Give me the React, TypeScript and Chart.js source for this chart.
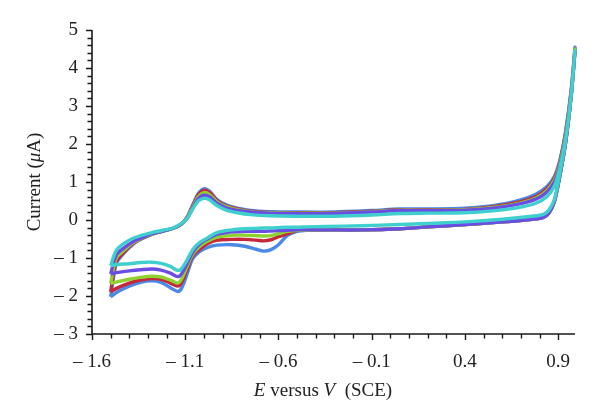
import { useEffect, useRef } from "react";
import { Chart, registerables } from "chart.js";

Chart.register(...registerables);

// Potential (V vs SCE) along the cyclic sweep
const forwardPotential = [-1.5, -1.47, -1.43, -1.38, -1.33, -1.28, -1.22, -1.16, -1.12, -1.09, -1.06, -1.03, -1.0, -0.97, -0.93, -0.88, -0.82, -0.75, -0.65, -0.5, -0.3, -0.1, 0.05, 0.2, 0.4, 0.55, 0.68, 0.78, 0.84, 0.88, 0.91, 0.94, 0.97, 0.99];
const reversePotential = [0.97, 0.94, 0.91, 0.88, 0.85, 0.82, 0.76, 0.6, 0.4, 0.2, 0.05, -0.15, -0.35, -0.45, -0.5, -0.55, -0.6, -0.64, -0.68, -0.72, -0.78, -0.85, -0.93, -0.98, -1.02, -1.06, -1.09, -1.12, -1.14, -1.18, -1.23, -1.28, -1.34, -1.4, -1.46, -1.5];

// Current (µA)
const blueForward = [-2.02, -1.15, -0.88, -0.64, -0.49, -0.38, -0.29, -0.21, -0.1, 0.08, 0.4, 0.7, 0.82, 0.76, 0.54, 0.4, 0.31, 0.25, 0.22, 0.21, 0.21, 0.25, 0.29, 0.29, 0.31, 0.38, 0.5, 0.68, 0.88, 1.15, 1.6, 2.35, 3.45, 4.55];
const blueReverse = [3.3, 2.05, 1.2, 0.5, 0.18, 0.07, 0.02, -0.05, -0.12, -0.18, -0.23, -0.26, -0.26, -0.27, -0.3, -0.4, -0.65, -0.78, -0.82, -0.77, -0.69, -0.65, -0.66, -0.72, -0.82, -1.02, -1.42, -1.8, -1.88, -1.78, -1.64, -1.6, -1.64, -1.74, -1.88, -2.02];

const redForward = [-1.89, -1.1, -0.85, -0.62, -0.48, -0.37, -0.29, -0.21, -0.1, 0.06, 0.37, 0.66, 0.78, 0.72, 0.51, 0.37, 0.29, 0.23, 0.2, 0.19, 0.19, 0.23, 0.27, 0.27, 0.28, 0.35, 0.46, 0.62, 0.82, 1.1, 1.55, 2.3, 3.4, 4.5];
const redReverse = [3.3, 2.05, 1.2, 0.5, 0.18, 0.07, 0.02, -0.05, -0.12, -0.18, -0.23, -0.26, -0.26, -0.27, -0.27, -0.36, -0.44, -0.52, -0.55, -0.53, -0.51, -0.51, -0.53, -0.62, -0.76, -0.95, -1.3, -1.65, -1.74, -1.66, -1.56, -1.54, -1.58, -1.66, -1.78, -1.89];

const greenForward = [-1.67, -1.0, -0.8, -0.6, -0.47, -0.37, -0.29, -0.21, -0.1, 0.05, 0.34, 0.61, 0.72, 0.67, 0.48, 0.35, 0.27, 0.22, 0.19, 0.18, 0.18, 0.22, 0.26, 0.26, 0.27, 0.33, 0.43, 0.58, 0.78, 1.05, 1.5, 2.25, 3.35, 4.5];
const greenReverse = [3.3, 2.05, 1.2, 0.5, 0.18, 0.07, 0.02, -0.05, -0.12, -0.18, -0.23, -0.26, -0.26, -0.27, -0.27, -0.3, -0.36, -0.41, -0.42, -0.41, -0.4, -0.4, -0.45, -0.56, -0.68, -0.9, -1.22, -1.56, -1.66, -1.58, -1.5, -1.48, -1.51, -1.56, -1.62, -1.67];

const purpleForward = [-1.42, -0.92, -0.74, -0.57, -0.46, -0.36, -0.29, -0.21, -0.1, 0.04, 0.31, 0.56, 0.65, 0.61, 0.44, 0.32, 0.25, 0.21, 0.18, 0.17, 0.17, 0.21, 0.25, 0.25, 0.26, 0.31, 0.41, 0.55, 0.74, 1.0, 1.45, 2.2, 3.3, 4.45];
const purpleReverse = [3.3, 2.05, 1.2, 0.5, 0.18, 0.07, 0.02, -0.05, -0.12, -0.18, -0.23, -0.26, -0.26, -0.26, -0.26, -0.27, -0.28, -0.29, -0.3, -0.3, -0.3, -0.31, -0.38, -0.5, -0.62, -0.85, -1.15, -1.42, -1.49, -1.4, -1.32, -1.29, -1.31, -1.34, -1.38, -1.42];

const cyanForward = [-1.2, -0.8, -0.62, -0.48, -0.4, -0.33, -0.27, -0.2, -0.09, 0.04, 0.29, 0.5, 0.57, 0.53, 0.38, 0.26, 0.19, 0.14, 0.11, 0.1, 0.1, 0.13, 0.17, 0.18, 0.19, 0.24, 0.32, 0.44, 0.62, 0.9, 1.4, 2.15, 3.3, 4.5];
const cyanReverse = [3.3, 2.1, 1.25, 0.55, 0.26, 0.15, 0.1, 0.02, -0.05, -0.09, -0.12, -0.15, -0.17, -0.18, -0.19, -0.19, -0.2, -0.21, -0.21, -0.22, -0.23, -0.26, -0.33, -0.47, -0.58, -0.78, -1.05, -1.28, -1.33, -1.22, -1.14, -1.11, -1.12, -1.15, -1.17, -1.2];

const seriesNames = ["Scan 5", "Scan 4", "Scan 3", "Scan 2", "Scan 1"];
const seriesColors = ["#3fcfcf", "#6a4de2", "#8fd12e", "#c4283a", "#4a8ae6"];
const seriesForward = [cyanForward, purpleForward, greenForward, redForward, blueForward];
const seriesReverse = [cyanReverse, purpleReverse, greenReverse, redReverse, blueReverse];

const xMin = -1.6;
const xMax = 0.99;
const yMin = -3;
const yMax = 5;
const xMajorTicks = [-1.6, -1.1, -0.6, -0.1, 0.4, 0.9];
const xTickLabels = ["\u2013 1.6", "\u2013 1.1", "\u2013 0.6", "\u2013 0.1", "0.4", "0.9"];
const yMajorTicks = [-3, -2, -1, 0, 1, 2, 3, 4, 5];
const yTickLabels = ["\u2013 3", "\u2013 2", "\u2013 1", "0", "1", "2", "3", "4", "5"];
const xMinorStep = 0.1;
const yMinorStep = 0.2;

const SERIF = "'Liberation Serif', 'Times New Roman', serif";
const FONT_SIZE = 19;

const axesPlugin = {
  id: "customAxes",
  afterDraw(chart: any) {
    const { ctx } = chart;
    const x = chart.scales.x;
    const y = chart.scales.y;
    const x0 = x.getPixelForValue(xMin);
    const x1 = x.getPixelForValue(xMax);
    const yb = y.getPixelForValue(yMin);
    const yt = y.getPixelForValue(yMax);
    ctx.save();
    ctx.strokeStyle = "#1a1a1a";
    ctx.lineWidth = 1.6;
    ctx.beginPath();
    ctx.moveTo(x0, yb);
    ctx.lineTo(x1, yb);
    ctx.moveTo(x0, yb);
    ctx.lineTo(x0, yt);
    ctx.stroke();
    ctx.lineWidth = 1.4;
    ctx.beginPath();
    const nx = Math.round((0.9 - xMin) / xMinorStep);
    for (let k = 0; k <= nx; k++) {
      const v = xMin + k * xMinorStep;
      const px = Math.round(x.getPixelForValue(v)) + 0.5;
      const len = k % 5 === 0 ? 6 : 4.5;
      ctx.moveTo(px, yb);
      ctx.lineTo(px, yb + len);
    }
    const ny = Math.round((yMax - yMin) / yMinorStep);
    for (let k = 0; k <= ny; k++) {
      const v = yMin + k * yMinorStep;
      const py = Math.round(y.getPixelForValue(v)) + 0.5;
      const len = k % 5 === 0 ? 6 : 4.5;
      ctx.moveTo(x0, py);
      ctx.lineTo(x0 - len, py);
    }
    ctx.stroke();

    // axis titles
    const normal = `${FONT_SIZE}px ${SERIF}`;
    const italic = `italic ${FONT_SIZE}px ${SERIF}`;
    ctx.fillStyle = "#222";
    ctx.textBaseline = "middle";
    ctx.textAlign = "left";
    const drawRuns = (runs: [string, string][], cx: number, cy: number) => {
      let total = 0;
      for (const [t, f] of runs) {
        ctx.font = f;
        total += ctx.measureText(t).width;
      }
      let cur = cx - total / 2;
      for (const [t, f] of runs) {
        ctx.font = f;
        ctx.fillText(t, cur, cy);
        cur += ctx.measureText(t).width;
      }
    };
    drawRuns(
      [["E", italic], [" versus ", normal], ["V", italic], ["  (SCE)", normal]],
      323,
      391
    );
    ctx.save();
    ctx.translate(35, (yt + yb) / 2);
    ctx.rotate(-Math.PI / 2);
    drawRuns([["Current (", normal], ["\u03bc", italic], ["A)", normal]], 0, 0);
    ctx.restore();
    ctx.restore();
  },
};

export default function App() {
  const canvasRef = useRef<HTMLCanvasElement | null>(null);

  useEffect(() => {
    const canvas = canvasRef.current;
    if (!canvas) return;
    const datasets = seriesNames.map((name, i) => ({
      label: name,
      data: [
        ...forwardPotential.map((e, j) => ({ x: e, y: seriesForward[i][j] })),
        ...reversePotential.map((e, j) => ({ x: e, y: seriesReverse[i][j] })),
      ],
      borderColor: seriesColors[i],
      backgroundColor: seriesColors[i],
      borderWidth: 3.4,
      pointRadius: 0,
      tension: 0.3,
      fill: false,
      clip: false as any,
    }));
    const chart = new Chart(canvas, {
      type: "line",
      data: { datasets },
      options: {
        animation: false,
        responsive: false,
        maintainAspectRatio: false,
        layout: { padding: { top: 30, right: 25, left: 0, bottom: 0 } },
        plugins: {
          legend: { display: false },
          tooltip: { enabled: false },
          title: { display: false },
        },
        scales: {
          x: {
            type: "linear",
            min: xMin,
            max: xMax,
            grid: { display: false },
            border: { display: false },
            afterBuildTicks: (s: any) => {
              s.ticks = xMajorTicks.map((value) => ({ value }));
            },
            afterFit: (s: any) => {
              s.height = 85;
            },
            ticks: {
              autoSkip: false,
              maxRotation: 0,
              padding: 9,
              color: "#222",
              font: { family: SERIF, size: FONT_SIZE },
              callback: (_v: any, idx: number) => xTickLabels[idx],
            },
          },
          y: {
            type: "linear",
            min: yMin,
            max: yMax,
            grid: { display: false },
            border: { display: false },
            afterBuildTicks: (s: any) => {
              s.ticks = yMajorTicks.map((value) => ({ value }));
            },
            afterFit: (s: any) => {
              s.width = 92;
            },
            ticks: {
              autoSkip: false,
              padding: 6,
              color: "#222",
              font: { family: SERIF, size: FONT_SIZE },
              callback: (_v: any, idx: number) => yTickLabels[idx],
            },
          },
        },
      },
      plugins: [axesPlugin],
    });
    return () => chart.destroy();
  }, []);

  return (
    <div style={{ position: "fixed", left: 0, top: 0, width: 600, height: 419, background: "#fff" }}>
      <canvas ref={canvasRef} width={600} height={419} />
    </div>
  );
}
